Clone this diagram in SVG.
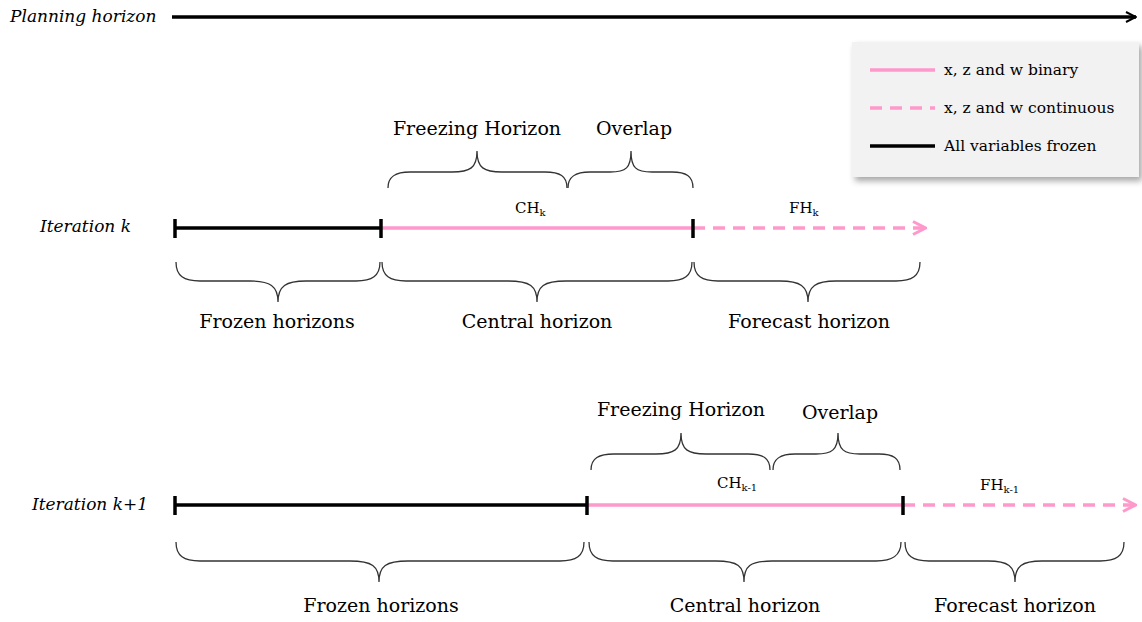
<svg xmlns="http://www.w3.org/2000/svg" width="1142" height="622" viewBox="0 0 1142 622">
<defs>
<style>
.t{font-family:"DejaVu Serif","Liberation Serif",serif;fill:#000;}
.lbl{font-size:19px;}
.it{font-style:italic;font-size:17px;}
.sm{font-size:15px;}
.lg{font-size:15.5px;}
.sub{font-size:10px;}
.brace{fill:none;stroke:#333;stroke-width:1.3;}
.blk{stroke:#000;stroke-width:3.5;fill:none;}
.pk{stroke:#ff99cc;stroke-width:3.5;fill:none;}
.pkd{stroke:#ff99cc;stroke-width:3.5;fill:none;stroke-dasharray:12 8;}
.tick{stroke:#000;stroke-width:3.5;}
</style>
<marker id="ab" viewBox="0 0 12 12" refX="11" refY="6" markerWidth="12" markerHeight="12" markerUnits="userSpaceOnUse" orient="auto">
<path d="M1,1 L11,6 L1,11" fill="none" stroke="#000" stroke-width="2"/>
</marker>
<marker id="ap" viewBox="0 0 16 16" refX="15" refY="8" markerWidth="16" markerHeight="16" markerUnits="userSpaceOnUse" orient="auto">
<path d="M2,1.5 L14.5,8 L2,14.5" fill="none" stroke="#ff99cc" stroke-width="3"/>
</marker>
<filter id="sh" x="-10%" y="-10%" width="125%" height="135%">
<feDropShadow dx="3" dy="4" stdDeviation="3" flood-color="#000" flood-opacity="0.35"/>
</filter>
</defs>

<g id="planning">
<text class="t it" x="10" y="22">Planning horizon</text>
<line class="blk" x1="172" y1="17" x2="1136" y2="17" stroke-width="3" marker-end="url(#ab)"/>
</g>

<g id="legend">
<rect x="852" y="42" width="287" height="135" fill="#f2f2f2" filter="url(#sh)"/>
<line class="pk" x1="870" y1="70" x2="935" y2="70"/>
<line class="pkd" x1="870" y1="108" x2="935" y2="108" stroke-dasharray="10 6"/>
<line class="blk" x1="870" y1="146" x2="935" y2="146"/>
<text class="t lg" x="944" y="75">x, z and w binary</text>
<text class="t lg" x="944" y="113">x, z and w continuous</text>
<text class="t lg" x="944" y="151">All variables frozen</text>
</g>

<g id="iteration-k">
<text class="t it" x="40" y="232">Iteration k</text>
<line class="blk" x1="175" y1="228" x2="381" y2="228"/>
<line class="pk" x1="381" y1="228" x2="693" y2="228"/>
<line class="pkd" x1="693" y1="228" x2="926" y2="228" marker-end="url(#ap)"/>
<line class="tick" x1="175" y1="219" x2="175" y2="238"/>
<line class="tick" x1="381" y1="219" x2="381" y2="238"/>
<line class="tick" x1="693" y1="219" x2="693" y2="238"/>
<text class="t sm" x="515" y="213">CH<tspan class="sub" dy="3">k</tspan></text>
<text class="t sm" x="789" y="213">FH<tspan class="sub" dy="3">k</tspan></text>
</g>

<g id="k-freezing">
<path class="brace" d="M388,188 C388,176 396,172 410,172 L452,172 C470,172 477,168 477,151 C477,168 484,172 502,172 L545,172 C560,172 567,176 567,188"/>
<text class="t lbl" x="477" y="135" text-anchor="middle">Freezing Horizon</text>
</g>
<g id="k-overlap">
<path class="brace" d="M568,188 C568,176 576,172 590,172 L610,172 C626,172 631,168 631,151 C631,168 636,172 652,172 L672,172 C686,172 693,176 693,188"/>
<text class="t lbl" x="634" y="135" text-anchor="middle">Overlap</text>
</g>
<g id="k-frozen">
<path class="brace" d="M176,262 C176,276 184,281 200,281 L250,281 C270,281 278,286 278,302 C278,286 286,281 306,281 L356,281 C372,281 380,276 380,262"/>
<text class="t lbl" x="277" y="328" text-anchor="middle">Frozen horizons</text>
</g>
<g id="k-central">
<path class="brace" d="M382,262 C382,276 390,281 406,281 L508,281 C530,281 537,286 537,302 C537,286 544,281 566,281 L668,281 C684,281 692,276 692,262"/>
<text class="t lbl" x="537" y="328" text-anchor="middle">Central horizon</text>
</g>
<g id="k-forecast">
<path class="brace" d="M694,262 C694,276 702,281 718,281 L780,281 C800,281 808,286 808,302 C808,286 816,281 836,281 L896,281 C912,281 920,276 920,262"/>
<text class="t lbl" x="809" y="328" text-anchor="middle">Forecast horizon</text>
</g>

<g id="iteration-k1">
<text class="t it" x="32" y="510">Iteration k+1</text>
<line class="blk" x1="175" y1="505" x2="587" y2="505"/>
<line class="pk" x1="587" y1="505" x2="903" y2="505"/>
<line class="pkd" x1="903" y1="505" x2="1136" y2="505" marker-end="url(#ap)"/>
<line class="tick" x1="175" y1="496" x2="175" y2="515"/>
<line class="tick" x1="587" y1="496" x2="587" y2="515"/>
<line class="tick" x1="903" y1="496" x2="903" y2="515"/>
<text class="t sm" x="717" y="488">CH<tspan class="sub" dy="3">k-1</tspan></text>
<text class="t sm" x="980" y="490">FH<tspan class="sub" dy="3">k-1</tspan></text>
</g>

<g id="k1-freezing">
<path class="brace" d="M591,470 C591,458 599,454 614,454 L656,454 C674,454 681,450 681,433 C681,450 688,454 706,454 L748,454 C763,454 770,458 770,470"/>
<text class="t lbl" x="681" y="416" text-anchor="middle">Freezing Horizon</text>
</g>
<g id="k1-overlap">
<path class="brace" d="M773,470 C773,458 781,454 795,454 L816,454 C832,454 838,450 838,433 C838,450 844,454 860,454 L879,454 C893,454 900,458 900,470"/>
<text class="t lbl" x="840" y="419" text-anchor="middle">Overlap</text>
</g>
<g id="k1-frozen">
<path class="brace" d="M176,542 C176,556 184,561 200,561 L350,561 C372,561 379,566 379,582 C379,566 386,561 408,561 L560,561 C576,561 584,556 584,542"/>
<text class="t lbl" x="381" y="612" text-anchor="middle">Frozen horizons</text>
</g>
<g id="k1-central">
<path class="brace" d="M589,542 C589,556 597,561 613,561 L716,561 C738,561 744,566 744,582 C744,566 750,561 772,561 L876,561 C892,561 901,556 901,542"/>
<text class="t lbl" x="745" y="612" text-anchor="middle">Central horizon</text>
</g>
<g id="k1-forecast">
<path class="brace" d="M905,542 C905,556 913,561 929,561 L988,561 C1008,561 1015,566 1015,582 C1015,566 1022,561 1042,561 L1100,561 C1116,561 1124,556 1124,542"/>
<text class="t lbl" x="1015" y="612" text-anchor="middle">Forecast horizon</text>
</g>
</svg>
